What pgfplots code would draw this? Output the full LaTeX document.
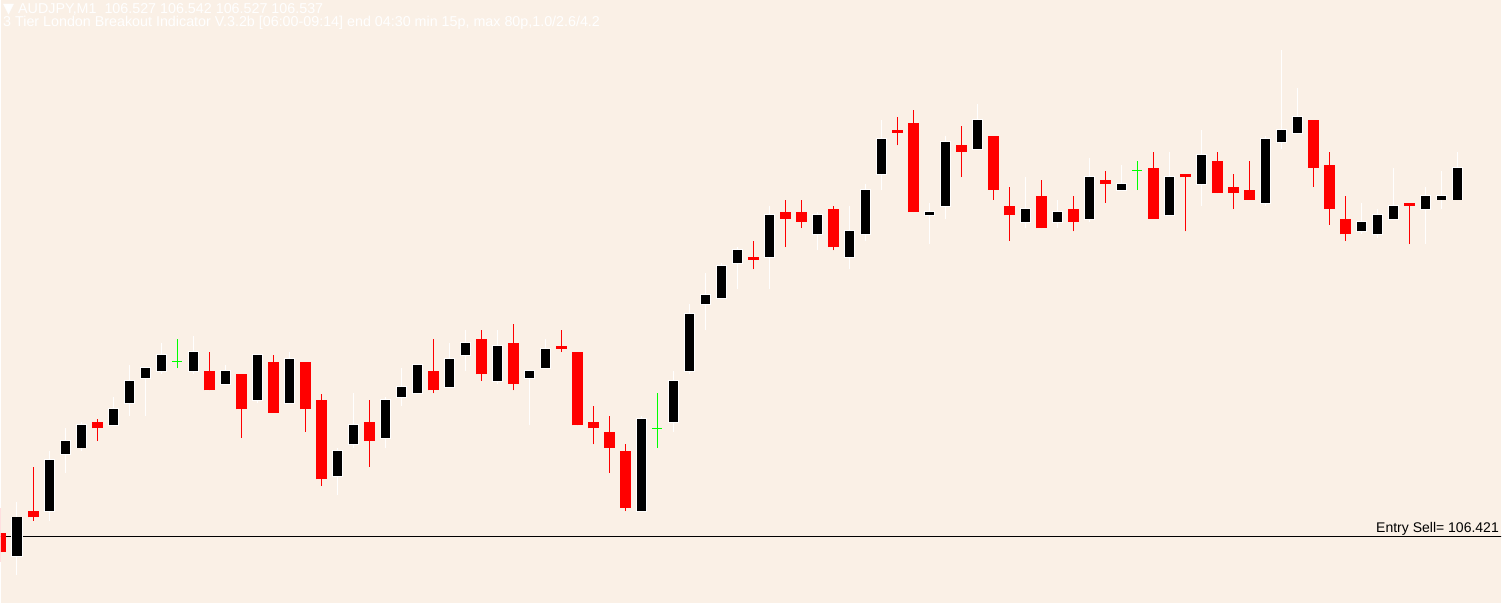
\documentclass[border=0pt]{standalone}
\usepackage{pgfplots}
\usepackage{pgfplotstable}
\usepackage{fontspec}
\pgfplotsset{compat=1.18}
\newfontfamily\mtfont{Liberation Sans}
\newfontfamily\symfont{DejaVu Sans}
\definecolor{linen}{RGB}{250,240,230}
\definecolor{bearred}{RGB}{255,0,0}
\definecolor{dojigreen}{RGB}{0,255,0}

\pgfplotstableread{
i o h l c
1 106.415 106.432 106.409 106.427
3 106.429 106.448 106.426 106.445
4 106.447 106.455 106.441 106.451
5 106.449 106.457 106.448 106.456
7 106.456 106.465 106.456 106.461
8 106.463 106.475 106.459 106.470
9 106.471 106.474 106.459 106.474
10 106.473 106.482 106.472 106.478
12 106.473 106.484 106.472 106.479
14 106.469 106.475 106.469 106.473
16 106.464 106.478 106.463 106.478
18 106.463 106.479 106.463 106.477
21 106.440 106.449 106.434 106.448
22 106.450 106.466 106.449 106.456
24 106.452 106.465 106.449 106.464
25 106.465 106.474 106.462 106.468
26 106.466 106.475 106.466 106.475
28 106.468 106.482 106.468 106.477
29 106.478 106.486 106.473 106.482
31 106.470 106.486 106.469 106.481
33 106.471 106.473 106.456 106.473
34 106.474 106.483 106.474 106.480
40 106.429 106.459 106.429 106.458
42 106.457 106.473 106.454 106.470
43 106.473 106.494 106.472 106.491
44 106.494 106.504 106.486 106.497
45 106.496 106.507 106.496 106.506
46 106.507 106.512 106.499 106.511
48 106.509 106.525 106.499 106.522
51 106.516 106.523 106.511 106.522
53 106.509 106.525 106.505 106.517
54 106.516 106.532 106.514 106.530
55 106.535 106.552 106.530 106.546
58 106.522 106.526 106.513 106.523
59 106.525 106.547 106.521 106.545
61 106.543 106.557 106.543 106.552
64 106.520 106.534 106.518 106.524
66 106.520 106.527 106.518 106.523
68 106.521 106.540 106.520 106.534
70 106.530 106.538 106.530 106.532
73 106.522 106.542 106.522 106.534
75 106.532 106.549 106.525 106.541
79 106.526 106.547 106.525 106.546
80 106.545 106.574 106.543 106.549
81 106.548 106.562 106.548 106.553
85 106.517 106.526 106.516 106.520
86 106.516 106.524 106.515 106.522
87 106.521 106.537 106.521 106.525
89 106.524 106.531 106.513 106.528
90 106.527 106.536 106.524 106.528
91 106.527 106.542 106.527 106.537
}\bull

\pgfplotstableread{
i o h l c
0 106.422 106.430 106.413 106.416
2 106.429 106.443 106.426 106.427
6 106.457 106.458 106.451 106.455
13 106.473 106.479 106.467 106.467
15 106.472 106.472 106.452 106.461
17 106.476 106.478 106.460 106.460
19 106.476 106.476 106.454 106.461
20 106.464 106.466 106.437 106.439
23 106.457 106.464 106.443 106.451
27 106.473 106.483 106.466 106.467
30 106.483 106.486 106.470 106.472
32 106.482 106.488 106.467 106.469
35 106.481 106.486 106.479 106.480
36 106.479 106.479 106.456 106.456
37 106.457 106.462 106.450 106.455
38 106.454 106.459 106.441 106.449
39 106.448 106.450 106.429 106.430
47 106.509 106.514 106.505 106.508
49 106.523 106.527 106.512 106.521
50 106.523 106.527 106.518 106.520
52 106.524 106.525 106.511 106.512
56 106.549 106.553 106.544 106.548
57 106.551 106.555 106.523 106.523
60 106.544 106.550 106.534 106.542
62 106.547 106.547 106.527 106.530
63 106.525 106.531 106.514 106.522
65 106.528 106.533 106.518 106.518
67 106.524 106.528 106.517 106.520
69 106.533 106.536 106.526 106.532
72 106.537 106.542 106.521 106.521
74 106.535 106.535 106.517 106.534
76 106.539 106.542 106.529 106.529
77 106.531 106.535 106.524 106.529
78 106.530 106.539 106.527 106.527
82 106.552 106.552 106.531 106.537
83 106.538 106.542 106.519 106.524
84 106.521 106.528 106.514 106.516
88 106.526 106.526 106.513 106.525
}\bear

\pgfplotstableread{
i o h l c
11 106.476 106.483 106.474 106.476
41 106.455 106.466 106.449 106.455
71 106.536 106.539 106.530 106.536
}\doji

\begin{document}
\begin{tikzpicture}
\fill[white] (0,0) rectangle (1507pt,611pt);
\begin{axis}[
  at={(1pt,8pt)}, anchor=south west,
  scale only axis, width=1500pt, height=603pt,
  xmin=0, xmax=93.75, ymin=106.40011, ymax=106.58974,
  axis line style={draw=none}, xtick=\empty, ytick=\empty,
  axis background/.style={fill=linen},
  clip=true,
  candle/.style={draw=none, mark=none, forget plot,
    error bars/y dir=plus, error bars/y explicit, error bars/error mark=none},
]
% entry sell line
\addplot[black, line width=1pt, forget plot, mark=none] coordinates {(-2,106.421) (100,106.421)};
% bull wicks
\addplot[candle, error bars/error bar style={draw=white, line width=1pt}]
  table[x=i, y=l, y error expr=\thisrow{h}-\thisrow{l}] {\bull};
% bear wicks
\addplot[candle, error bars/error bar style={draw=bearred, line width=1pt}]
  table[x=i, y=l, y error expr=\thisrow{h}-\thisrow{l}] {\bear};
% doji wicks
\addplot[candle, error bars/error bar style={draw=dojigreen, line width=1pt}]
  table[x=i, y=l, y error expr=\thisrow{h}-\thisrow{l}] {\doji};
% doji bars
\addplot[draw=none, mark=none, forget plot,
  error bars/x dir=both, error bars/x fixed=0.34, error bars/error mark=none,
  error bars/error bar style={draw=dojigreen, line width=1pt}]
  table[x=i, y=o] {\doji};
% bull bodies: white border then black fill
\addplot[candle, error bars/error bar style={draw=white, line width=11pt}]
  table[x=i, y expr=\thisrow{o}-0.00031, y error expr=\thisrow{c}-\thisrow{o}+0.00062] {\bull};
\addplot[candle, error bars/error bar style={draw=black, line width=9pt}]
  table[x=i, y=o, y error expr=\thisrow{c}-\thisrow{o}] {\bull};
% bear bodies
\addplot[candle, error bars/error bar style={draw=bearred, line width=11pt}]
  table[x=i, y=c, y error expr=\thisrow{o}-\thisrow{c}] {\bear};
\end{axis}
\node[anchor=base west, text=white, inner sep=0pt] at (3pt,597pt)
  {\fontsize{14.3pt}{16pt}\selectfont{\symfont ▼}\mtfont\ AUDJPY,M1\ \ 106.527 106.542 106.527 106.537};
\node[anchor=base west, text=white, inner sep=0pt] at (3pt,584pt)
  {\fontsize{14.3pt}{16pt}\selectfont\mtfont 3 Tier London Breakout Indicator V.3.2b [06:00-09:14] end 04:30 min 15p, max 80p,1.0/2.6/4.2};
\node[anchor=base east, text=black, inner sep=0pt] at (1499pt,78.7pt)
  {\fontsize{14pt}{16pt}\selectfont\mtfont Entry Sell= 106.421};
\end{tikzpicture}
\end{document}
